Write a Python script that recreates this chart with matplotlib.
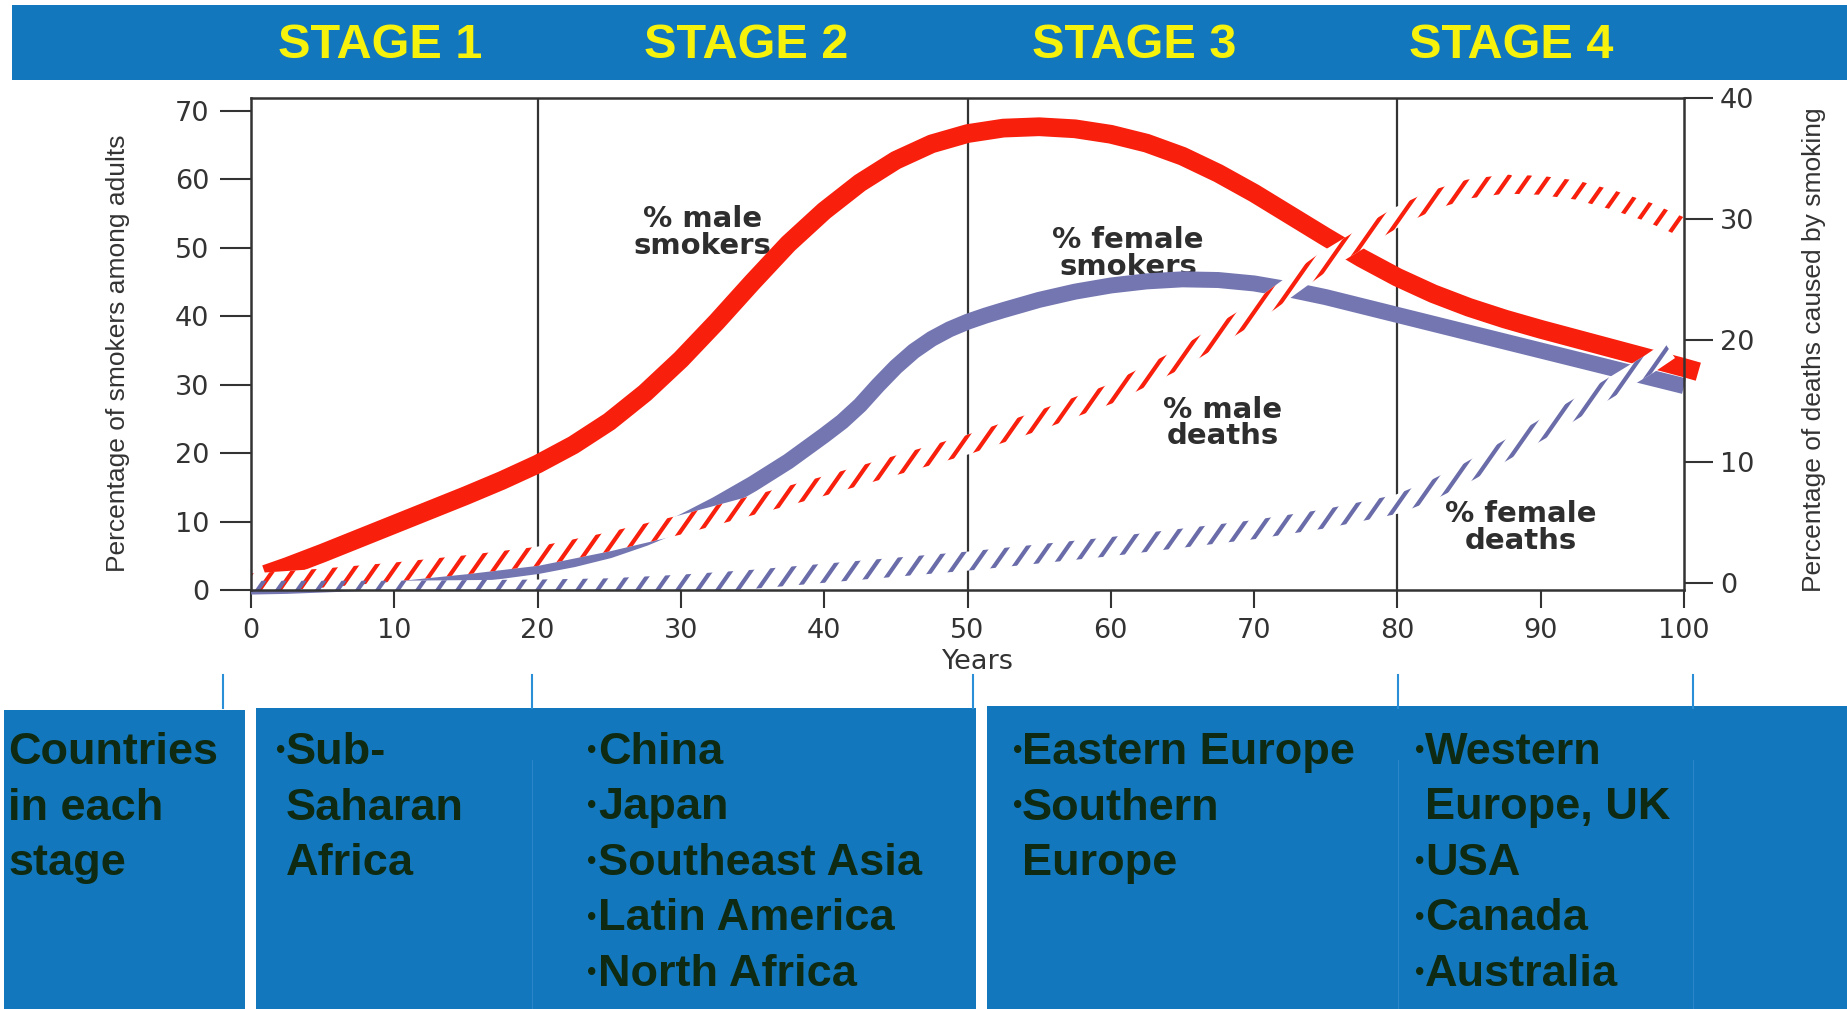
import numpy as np
import matplotlib
matplotlib.use('Agg')
import matplotlib.pyplot as plt
from matplotlib import font_manager
from matplotlib.patches import Polygon, Rectangle
from matplotlib.collections import LineCollection
from matplotlib.lines import Line2D

# ---- data: four-stage model of the tobacco epidemic ----
stages = ['STAGE 1', 'STAGE 2', 'STAGE 3', 'STAGE 4']
stage_edges = [20, 50, 80]

years_m = [1, 2.5, 5, 7.5, 10, 12.5, 15, 17.5, 20, 22.5, 25, 27.5, 30, 32.5, 35, 37.5, 40,
           42.5, 45, 47.5, 50, 52.5, 55, 57.5, 60, 62.5, 65, 67.5, 70, 72.5, 75, 77.5, 80,
           82.5, 85, 87.5, 90, 92.5, 95, 97.5, 100, 101]
male_smokers = [2.3, 3.4, 5.4, 7.5, 9.6, 11.7, 13.8, 16.0, 18.4, 21.2, 24.6, 28.8, 33.7, 39.2,
                45.0, 50.6, 55.4, 59.5, 62.8, 65.2, 66.7, 67.5, 67.7, 67.4, 66.6, 65.3, 63.4,
                60.9, 58.0, 54.8, 51.6, 48.5, 45.7, 43.3, 41.3, 39.6, 38.1, 36.7, 35.3, 33.9,
                32.5, 31.9]

years_f = [0, 2.5, 5, 7.5, 10, 12.5, 15, 17.5, 20, 22.5, 25, 27.5, 30, 32.5, 35, 37.5, 40,
           41.25, 42.5, 43.75, 45, 46.25, 47.5, 48.75, 50, 51.25, 52.5, 55, 57.5, 60, 62.5,
           65, 67.5, 70, 72.5, 75, 77.5, 80, 82.5, 85, 87.5, 90, 92.5, 95, 97.5, 100]
female_smokers = [0.5, 0.6, 0.8, 1.0, 1.3, 1.7, 2.2, 2.8, 3.5, 4.5, 5.8, 7.6, 9.8, 12.5, 15.5,
                  18.8, 22.6, 24.6, 27.0, 29.9, 32.6, 34.9, 36.7, 38.1, 39.2, 40.1, 40.9,
                  42.4, 43.6, 44.5, 45.1, 45.4, 45.3, 44.8, 43.9, 42.8, 41.5, 40.2, 38.9,
                  37.6, 36.3, 35.0, 33.7, 32.4, 31.1, 29.8]

years_md = [0, 5, 10, 15, 20, 25, 30, 35, 40, 45, 50, 55, 60, 65, 70, 75, 80, 82.5, 85, 87.5,
            90, 92.5, 95, 97.5, 100]
male_deaths = [0.0, 0.4, 0.9, 1.5, 2.2, 3.4, 4.8, 6.4, 8.0, 9.7, 11.4, 13.4, 15.6, 18.6, 22.3,
               26.6, 30.2, 31.6, 32.5, 32.9, 32.8, 32.4, 31.6, 30.6, 29.3]

years_fd = [0, 10, 20, 25, 30, 35, 40, 45, 50, 55, 60, 65, 70, 75, 80, 82.5, 85, 87.5, 90,
            92.5, 95, 97.5, 99]
female_deaths = [-0.6, -0.6, -0.5, -0.4, -0.1, 0.3, 0.8, 1.3, 1.8, 2.4, 3.0, 3.7, 4.4, 5.3, 6.5,
                 7.7, 9.2, 10.9, 12.6, 14.4, 16.2, 18.0, 19.2]

x_ticks = list(range(0, 101, 10))
smoker_ticks = list(range(0, 71, 10))
death_ticks = list(range(0, 41, 10))

country_header = ['Countries', 'in each', 'stage']
countries = [
    [['Sub-', 'Saharan', 'Africa']],
    [['China'], ['Japan'], ['Southeast Asia'], ['Latin America'], ['North Africa']],
    [['Eastern Europe'], ['Southern', 'Europe']],
    [['Western', 'Europe, UK'], ['USA'], ['Canada'], ['Australia']],
]

# ---- style ----
W, H = 1847, 1009
BLUE = '#1277bd'
RED = '#f81f0c'
SLATE = '#7476b2'
SLATE_HATCH = '#6a6caa'
INK = '#333333'
DARK = '#0e2a12'

have = {f.name for f in font_manager.fontManager.ttflist}
narrow = 'Liberation Sans Narrow' if 'Liberation Sans Narrow' in have else 'Liberation Sans'
label_size = 23 if narrow == 'Liberation Sans Narrow' else 19


def fx(px):
    return px / W


def fy(py):
    return 1 - py / H


def hatched_band(ax, xs, ys, color, half=9.5, gap=20.0, angle=55.0, lw=3.0, z=3):
    """Draw a curve as a white band filled with slanted strokes."""
    trans = ax.transData
    inv = trans.inverted()
    pts = trans.transform(np.column_stack([xs, ys]))
    d = np.gradient(pts, axis=0)
    nrm = np.column_stack([-d[:, 1], d[:, 0]])
    nrm /= np.hypot(nrm[:, 0], nrm[:, 1])[:, None]
    outline = np.vstack([pts + half * nrm, (pts - half * nrm)[::-1]])
    band = Polygon(inv.transform(outline), closed=True, facecolor='white',
                   edgecolor='none', zorder=z)
    ax.add_patch(band)

    t = np.deg2rad(angle)
    x0, x1 = outline[:, 0].min(), outline[:, 0].max()
    y0, y1 = outline[:, 1].min(), outline[:, 1].max()
    run = (y1 - y0) / np.tan(t)
    segs = []
    for sx in np.arange(x0 - run - gap, x1 + gap, gap):
        segs.append(inv.transform([(sx, y0), (sx + run, y1)]))
    lc = LineCollection(segs, colors=color, linewidths=lw, zorder=z + 0.1,
                        capstyle='butt')
    ax.add_collection(lc, autolim=False)
    lc.set_clip_path(band)


fig = plt.figure(figsize=(W / 100, H / 100), dpi=100, facecolor='white')

# header banner with stage names
fig.add_artist(Rectangle((fx(12), fy(80)), 1 - fx(12), 75 / H, transform=fig.transFigure,
                         facecolor=BLUE, edgecolor='none', zorder=0))
for name, cx in zip(stages, [380, 746, 1134, 1511]):
    fig.text(fx(cx), fy(46), name, ha='center', va='center', fontsize=35,
             fontweight='bold', family='Liberation Sans', color='#f6f20c')

# country panels along the bottom
for left, right, top in [(4, 245, 710), (256, 976, 708), (987, 1847, 706)]:
    fig.add_artist(Rectangle((fx(left), 0), fx(right) - fx(left), fy(top),
                             transform=fig.transFigure, facecolor=BLUE,
                             edgecolor='none', zorder=0))
for px in [532, 1398, 1693]:
    fig.add_artist(Line2D([fx(px), fx(px)], [fy(760), 0], color='#2a86c8', lw=0.8, zorder=0.5))
for px in [223, 532, 973, 1398, 1693]:
    fig.add_artist(Line2D([fx(px), fx(px)], [fy(675), fy(708)], color='#2b8fd8', lw=1.5))

rows = [764 + 55.5 * i for i in range(5)]
for i, line in enumerate(country_header):
    fig.text(fx(8), fy(rows[i]), line, ha='left', va='baseline', fontsize=32.5,
             fontweight='bold', family='Liberation Sans', color=DARK)

for (bx, tx), items in zip([(274, 286), (585, 598), (1011, 1022), (1413, 1425)], countries):
    r = 0
    for item in items:
        fig.text(fx(bx), fy(rows[r] - 7), '\u2022', ha='left', va='baseline', fontsize=15,
                 fontweight='bold', family='DejaVu Sans', color=DARK)
        for line in item:
            fig.text(fx(tx), fy(rows[r]), line, ha='left', va='baseline', fontsize=32.5,
                     fontweight='bold', family='Liberation Sans', color=DARK)
            r += 1

# ---- chart ----
ax = fig.add_axes([fx(251), fy(590), (1684 - 251) / W, (590 - 98) / H])
ax.set_xlim(0, 100)
ax.set_ylim(0, 71.9)
ax2 = ax.twinx()
ax2.set_ylim(-0.58, 40)

for s in ax.spines.values():
    s.set_visible(False)
for s in ax2.spines.values():
    s.set_color(INK)
    s.set_linewidth(1.8)
    s.set_zorder(5)

ax.set_xticks(x_ticks)
ax.set_yticks(smoker_ticks)
ax2.set_yticks(death_ticks)
ax.tick_params(axis='x', direction='out', length=13, width=1.5, pad=7, labelsize=19.5,
               colors=INK)
ax.tick_params(axis='y', direction='out', length=22, width=1.5, pad=8, labelsize=19.5,
               colors=INK)
ax2.tick_params(axis='y', direction='out', length=21, width=1.5, pad=5, labelsize=19.5,
                colors=INK)

for xv in stage_edges:
    ax.axvline(xv, color=INK, lw=1.6, zorder=1.5)

ax.plot(years_m, male_smokers, color=RED, lw=13.5, solid_capstyle='butt',
        solid_joinstyle='round', zorder=2, clip_on=False)
ax.plot(years_f, female_smokers, color=SLATE, lw=11.5, solid_capstyle='butt',
        solid_joinstyle='round', zorder=2.1, clip_on=False)

hatched_band(ax2, years_md, male_deaths, RED)
hatched_band(ax2, years_fd, female_deaths, SLATE_HATCH)

note = dict(ha='center', va='center', fontsize=21, fontweight='bold', family='DejaVu Sans',
            color='#2e2e2e', linespacing=0.95, zorder=1.2)
ax.text(31.5, 52.2, '% male\nsmokers', **note)
ax.text(61.2, 49.2, '% female\nsmokers', **note)
ax.text(67.8, 24.4, '% male\ndeaths', **note)
ax.text(88.6, 9.1, '% female\ndeaths', **note)

ax.text(-0.0928, 0.4817, 'Percentage of smokers among adults', transform=ax.transAxes,
        rotation=90, ha='center', va='center', fontsize=label_size, family=narrow, color=INK)
ax.text(1.0907, 0.4878, 'Percentage of deaths caused by smoking', transform=ax.transAxes,
        rotation=90, ha='center', va='center', fontsize=label_size, family=narrow, color=INK)
ax.text(0.5073, -0.1463, 'Years', transform=ax.transAxes, ha='center', va='center',
        fontsize=19.5, color=INK)

fig.savefig('out.png', dpi=100)
